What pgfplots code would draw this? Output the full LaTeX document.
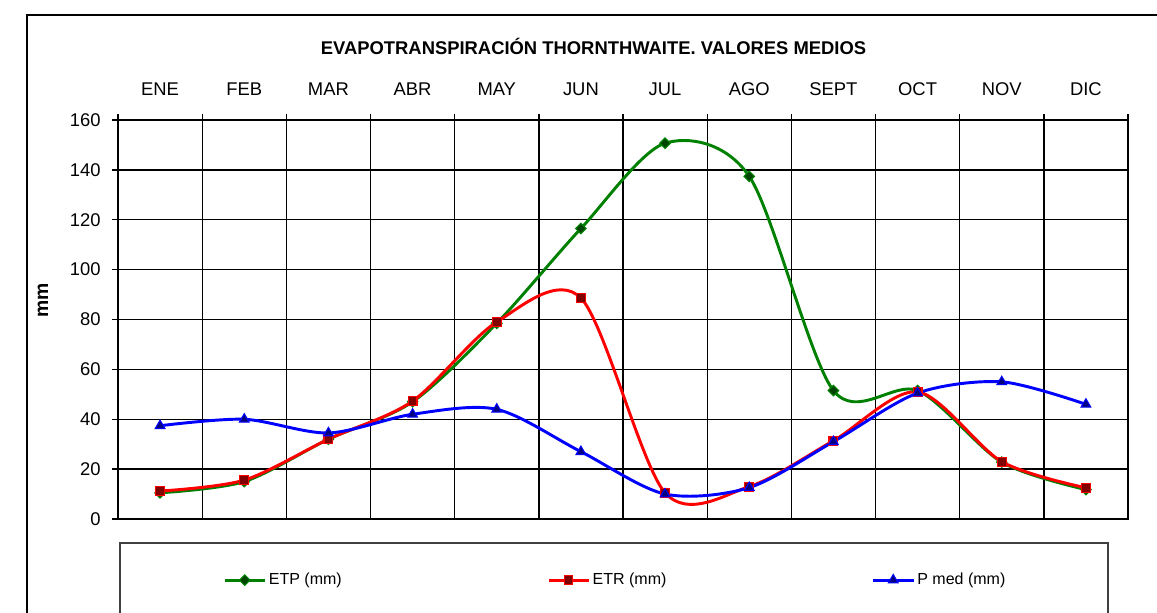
\documentclass[border=0pt]{standalone}
\usepackage{fontspec}
\setmainfont{Liberation Sans}
\usepackage{pgfplots}
\usepackage{pgfplotstable}
\pgfplotsset{compat=1.18}
\definecolor{etpline}{RGB}{0,128,0}
\definecolor{etpfill}{RGB}{0,70,0}
\definecolor{etrline}{RGB}{255,0,0}
\definecolor{etrfill}{RGB}{128,0,0}
\definecolor{pline}{RGB}{0,0,255}
\definecolor{pfill}{RGB}{0,0,128}
\pgfplotstableread{
x etp etr pmed
1 10.5 11.2 37.4
2 15 15.6 40
3 32 32 34.5
4 47 47.3 42
5 78.5 79 44
6 116.5 88.6 27
7 150.7 10.5 10
8 137.4 13 12.6
9 51.5 31.4 31
10 51.5 51 50.5
11 22.8 23 55
12 11.8 12.5 46
}\data
\begin{document}
\begin{tikzpicture}
\useasboundingbox (0pt,0pt) rectangle (867.75pt,-459.75pt);
\clip (0pt,0pt) rectangle (867.75pt,-459.75pt);
\begin{scope}[x=0.75pt,y=-0.75pt]
\draw[line width=1.5pt] (27,15) rectangle (1165,650);
\draw[line width=1.5pt, black!75] (120,543) rectangle (1108,650);
\node[font=\bfseries\fontsize{13.8}{16}\selectfont] at (593.5,46) {EVAPOTRANSPIRACIÓN THORNTHWAITE. VALORES MEDIOS};
\node[font=\bfseries\fontsize{14.5}{16}\selectfont, rotate=90] at (43,300) {mm};
\end{scope}
\begin{axis}[
  at={(88.5pt,-389.25pt)}, anchor=south west,
  scale only axis, width=757.5pt, height=299.25pt,
  xmin=0.5, xmax=12.5, ymin=0, ymax=160,
  xtick={1,...,12},
  xticklabels={ENE,FEB,MAR,ABR,MAY,JUN,JUL,AGO,SEPT,OCT,NOV,DIC},
  minor xtick={0.5,1.5,...,12.5},
  xtick pos=right, xticklabel pos=right,
  ytick={0,20,...,160}, ytick pos=left,
  tick align=outside,
  major tick length=4.5pt, minor tick length=4.5pt,
  every major x tick/.append style={draw=none},
  ymajorgrids=true, xminorgrids=true,
  grid style={black, line width=1pt},
  minor grid style={black, line width=1pt},
  axis line style={black, line width=1.5pt},
  every tick/.append style={black, line width=1pt},
  /pgf/number format/assume math mode=true,
  tick label style={font=\fontsize{13.8}{16}\selectfont},
  xticklabel style={yshift=10pt},
  yticklabel style={xshift=-5pt},
  legend style={at={(0.1,-0.153)}, anchor=west, draw=none, fill=none,
    legend columns=3, font=\fontsize{12}{14}\selectfont,
    /tikz/every even column/.append style={column sep=152pt}},
  legend image code/.code={\draw[mark repeat=2,mark phase=2] plot coordinates {(0pt,0pt) (15pt,0pt) (30pt,0pt)};},
  clip=false,
]
\addplot[etpline, line width=2.2pt, smooth, tension=0.5, mark=square*, mark size=2.8pt,
  mark options={rotate=45, fill=etpfill, draw=etpline, line width=0.8pt}] table[x=x,y=etp] {\data};
\addlegendentry{ETP (mm)}
\addplot[etrline, line width=2.2pt, smooth, tension=0.5, mark=square*, mark size=3.3pt,
  mark options={fill=etrfill, draw=etrline, line width=0.8pt}] table[x=x,y=etr] {\data};
\addlegendentry{ETR (mm)}
\addplot[pline, line width=2.2pt, smooth, tension=0.5, mark=triangle*, mark size=4.2pt,
  mark options={fill=pfill, draw=pline, line width=0.8pt}] table[x=x,y=pmed] {\data};
\addlegendentry{P med (mm)}
\end{axis}
\end{tikzpicture}
\end{document}
